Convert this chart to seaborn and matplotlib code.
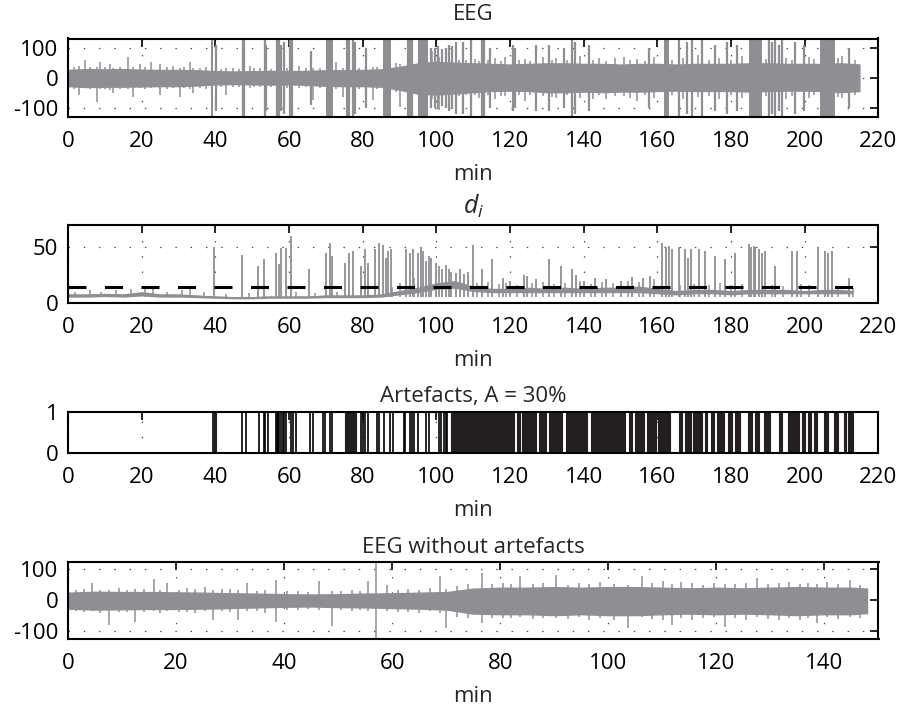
import numpy as np
import pandas as pd
import matplotlib
matplotlib.use("Agg")
import matplotlib.pyplot as plt
import seaborn as sns

# ---------------- data ----------------
# Panel 1: EEG (min, amplitude envelope, uV)
eeg_t  = [0, 5, 10, 15, 20, 25, 30, 35, 40, 45, 50, 55, 60, 65, 70, 75, 80, 85, 90, 95, 100,
          105, 110, 115, 120, 125, 130, 135, 140, 145, 150, 155, 160, 165, 170, 175, 180, 185,
          190, 195, 200, 205, 210, 215]
eeg_up = [28, 31, 30, 31, 29, 28, 28, 27, 24, 23, 24, 25, 24, 25, 27, 27, 28, 30, 38, 50, 55,
          52, 50, 48, 46, 48, 50, 50, 48, 48, 46, 48, 48, 46, 48, 48, 48, 50, 50, 48, 48, 48, 50, 46]
eeg_lo = [30, 33, 32, 32, 31, 30, 30, 28, 24, 23, 24, 25, 24, 26, 29, 30, 30, 32, 42, 55, 58,
          54, 50, 46, 45, 46, 50, 50, 48, 50, 48, 48, 46, 45, 46, 46, 46, 48, 46, 45, 45, 46, 50, 46]
# small spikes (min, up, down)
eeg_small_t  = [1.5, 3.0, 4.6, 6.0, 7.8, 8.7, 10.0, 11.4, 12.3, 14.0, 16.3, 17.7, 19.5, 21.0,
                22.6, 24.9, 25.0, 27.0, 28.5, 30.4, 31.5, 33.0, 34.0, 35.7, 37.5, 41.5, 43.0,
                44.7, 46.5, 49.3, 50.5, 52.0, 55.0, 59.5, 62.8, 64.5, 66.5, 68.3, 72.8, 74.7,
                79.0, 81.0, 82.8, 84.0, 89.1, 90.0, 98.9, 100.7, 106.0, 108.0, 110.5, 111.5,
                114.0, 116.0, 117.5, 118.5, 122.5, 124.0, 125.5, 129.0, 131.5, 132.5, 135.5,
                139.0, 142.5, 144.0, 146.0, 148.5, 151.0, 152.5, 154.5, 156.5, 159.0, 164.0,
                166.8, 171.0, 174.0, 176.8, 180.0, 183.0, 189.5, 195.0, 196.5, 201.0, 202.5,
                209.0, 210.0, 213.5]
eeg_small_up = [34, 38, 59, 35, 36, 53, 34, 45, 33, 37, 70, 34, 45, 35, 53, 45, 30, 34, 38, 32,
                36, 53, 33, 31, 34, 29, 31, 32, 30, 38, 31, 33, 30, 31, 38, 32, 33, 31, 53, 33,
                33, 48, 34, 36, 48, 45, 87, 70, 60, 58, 62, 56, 60, 66, 56, 70, 58, 62, 56, 68,
                58, 64, 58, 72, 60, 66, 56, 64, 70, 58, 62, 56, 70, 60, 64, 74, 58, 66, 60, 72,
                62, 66, 58, 70, 62, 64, 72, 58]
eeg_small_dn = [36, 58, 35, 38, 80, 36, 37, 40, 52, 36, 37, 63, 35, 38, 35, 37, 58, 36, 35, 63,
                35, 36, 52, 33, 36, 30, 58, 30, 31, 33, 30, 30, 31, 33, 35, 32, 74, 35, 36, 63,
                36, 38, 74, 38, 46, 97, 70, 108, 62, 58, 56, 66, 58, 72, 60, 62, 56, 76, 58, 60,
                64, 68, 58, 66, 72, 58, 70, 60, 60, 66, 76, 58, 66, 56, 72, 64, 60, 70, 56, 68,
                62, 72, 60, 66, 58, 64, 66, 56]
# artefact spikes (min, amplitude)
eeg_art_t   = [40.1, 47.5, 47.9, 53.4, 53.7, 56.6, 57.0, 57.4, 57.9, 58.5, 60.3, 60.8, 66.0,
               75.6, 76.2, 77.4, 78.0, 81.0, 92.2, 92.6, 93.0, 93.5, 98.5, 99.5, 100.5, 101.5,
               102.5, 103.5, 104.3, 105.3, 107.1, 109.4, 112.5, 113.0, 114.5, 120.7, 121.3,
               127.0, 130.6, 134.7, 136.9, 137.5, 141.4, 157.7, 165.8, 168.1, 169.4, 172.1,
               175.7, 178.9, 181.6, 190.2, 191.0, 191.8, 193.0, 193.8, 197.4, 199.7, 211.9]
eeg_art_amp = [110, 130, 130, 130, 110, 130, 130, 130, 110, 120, 130, 130, 90,
               130, 130, 130, 120, 100, 130, 130, 130, 130, 100, 100, 105, 95,
               100, 110, 105, 120, 120, 130, 130, 130, 100, 110, 100,
               110, 110, 100, 130, 120, 110, 100, 130, 120, 130, 130,
               110, 120, 110, 130, 120, 130, 110, 130, 120, 110, 100]
# dense artefact bursts (start, end) in min
eeg_burst_start = [38.7, 69.9, 85.4, 94.9, 161.7, 184.8, 204.2]
eeg_burst_end   = [39.4, 71.9, 87.7, 97.6, 163.1, 188.4, 208.2]

# Panel 2: d_i
di_t  = [0, 5, 10, 15, 20, 25, 30, 35, 40, 45, 50, 55, 60, 65, 70, 75, 80, 85, 90, 95, 100,
         105, 110, 115, 120, 125, 130, 135, 140, 145, 150, 155, 160, 165, 170, 175, 180, 185,
         190, 195, 200, 205, 210, 213]
di_lo = [5, 5, 5.5, 5, 6, 5, 5, 4.5, 4, 3.5, 3.5, 4, 4, 4, 4.5, 4.5, 4.5, 5, 7, 9, 12,
         13, 10, 9, 9, 9, 9, 9, 9, 9, 9, 9, 8, 7, 8, 8, 7, 8, 8, 8, 8, 8, 8, 8]
di_hi = [8, 8, 8.5, 8, 10, 8, 8, 7, 6, 5.5, 5.5, 6, 6, 6, 7, 7, 7, 8, 11, 14, 18,
         20, 15, 13, 13, 14, 13, 14, 13, 14, 14, 15, 13, 11, 12, 12, 11, 12, 12, 12, 11, 12, 12, 11]
di_thr = 14
di_thr_t = [0, 213]
di_spk_t = [39.6, 47.3, 51.5, 53.1, 56.4, 57.2, 57.9, 59.3, 60.4, 65.4, 70.1, 71.0, 71.7, 75.3,
            76.4, 77.3, 79.6, 80.5, 81.4, 83.2, 84.5, 85.4, 86.2, 86.8, 87.7, 91.8, 92.7, 93.6,
            95.0, 95.7, 96.3, 97.2, 98.0, 98.6, 99.9, 100.8, 101.6, 102.5, 103.4, 104.0, 105.3,
            106.5, 107.5, 108.5, 109.8, 112.5, 115.2, 118.0, 120.0, 123.8, 124.7, 127.0, 130.6,
            133.7, 136.9, 137.8, 140.0, 143.0, 146.0, 150.0, 153.0, 156.0, 158.0, 161.3, 162.2,
            163.1, 164.0, 165.8, 167.6, 168.4, 169.0, 171.2, 173.0, 175.7, 178.4, 181.1, 184.8,
            185.5, 186.2, 186.6, 187.5, 188.4, 189.3, 192.0, 196.5, 197.8, 203.7, 205.5, 206.4,
            207.3, 211.9]
di_spk_v = [50, 43, 33, 39, 45, 35, 49, 49, 60, 30, 45, 54, 42, 36,
            45, 47, 33, 48, 36, 48, 54, 52, 40, 47, 48, 48, 45, 48,
            45, 50, 47, 38, 42, 40, 36, 33, 30, 34, 30, 28, 27,
            30, 26, 28, 52, 30, 39, 22, 20, 25, 24, 21, 39,
            33, 30, 25, 20, 22, 21, 20, 23, 22, 24, 54, 50,
            51, 48, 50, 48, 40, 48, 48, 47, 42, 39, 45, 53,
            50, 51, 50, 48, 45, 47, 33, 47, 47, 50, 47, 45,
            47, 22]
# small baseline jitter peaks (min, value)
di_jit_t = [2, 6, 9, 13, 17, 21, 23, 27, 31, 33, 37, 43, 49, 62, 67, 73, 88, 90, 94, 111, 114,
            117, 119, 122, 126, 129, 132, 135, 139, 142, 145, 148, 152, 155, 159, 166, 170,
            174, 177, 180, 183, 191, 194, 199, 201, 209, 213]
di_jit_v = [10, 11, 10, 11, 12, 13, 12, 10, 11, 12, 10, 8, 9, 10, 9, 10, 14, 18, 22, 18, 19,
            17, 18, 16, 18, 19, 17, 18, 20, 17, 19, 18, 20, 19, 21, 16, 17, 16, 18, 16, 17,
            16, 15, 17, 16, 15, 13]

# Panel 3: artefact indicator (transition times and dense blocks, min)
art_edges = [39.3, 47.3, 48.4, 51.8, 53.1, 53.6, 54.3, 56.5, 56.7, 56.9, 57.1, 57.4, 57.7,
             58.3, 58.6, 59.3, 60.6, 61.1, 62.0, 65.6, 66.5, 69.2, 69.8, 71.0, 71.7, 79.6,
             80.2, 80.5, 81.4, 84.0, 84.3, 85.9, 87.3, 88.1, 91.3, 91.6, 92.7, 93.5, 93.8,
             94.9, 97.2, 98.1, 100.8, 101.3, 102.1, 102.6, 103.0]
art_blk_start = [39.6, 75.3, 104.0, 111.3, 112.2, 114.6, 122.0, 123.2, 127.9, 130.6, 135.1,
                 141.9, 146.4, 148.6, 152.2, 153.8, 157.2, 160.1, 165.8, 167.6, 169.6, 173.0,
                 174.4, 176.2, 179.2, 181.1, 184.6, 186.6, 188.8, 192.9, 195.4, 199.2, 200.8,
                 202.4, 205.1, 207.8, 210.5, 211.8]
art_blk_end   = [40.3, 78.2, 111.1, 112.0, 114.4, 121.1, 122.6, 127.0, 129.7, 134.0, 141.0,
                 145.9, 148.2, 151.3, 153.1, 156.3, 159.5, 163.5, 166.7, 169.0, 172.1, 173.5,
                 175.3, 178.0, 180.2, 182.5, 185.7, 187.5, 190.6, 193.8, 198.3, 200.1, 201.7,
                 203.3, 206.4, 209.1, 211.2, 213.2]

# Panel 4: EEG without artefacts
cl_t  = [0, 5, 10, 15, 20, 25, 30, 35, 40, 45, 50, 55, 60, 65, 70, 75, 80, 85, 90, 95, 100,
         105, 110, 115, 120, 125, 130, 135, 140, 145, 148]
cl_up = [27, 30, 29, 29, 28, 27, 25, 24, 22, 21, 22, 24, 25, 27, 29, 40, 43, 43, 45, 43, 45,
         45, 43, 41, 43, 41, 43, 45, 43, 43, 40]
cl_lo = [29, 32, 31, 30, 30, 29, 27, 25, 23, 22, 24, 25, 27, 29, 32, 45, 47, 47, 50, 47, 50,
         50, 47, 45, 47, 45, 47, 50, 47, 47, 43]
cl_spk_t  = [1.5, 3.0, 4.4, 6.0, 7.5, 9.5, 11.0, 12.4, 14.0, 15.9, 17.0, 18.3, 20.5, 22.0,
             23.5, 25.4, 26.9, 28.5, 30.0, 31.5, 33.1, 35.0, 36.5, 38.5, 40.5, 42.5, 44.5,
             46.4, 48.9, 50.5, 52.5, 54.0, 55.6, 57.0, 59.0, 61.0, 63.0, 65.0, 67.0, 68.9,
             70.0, 72.0, 74.0, 76.6, 78.5, 80.5, 82.0, 83.7, 86.0, 88.0, 90.4, 92.5, 94.5,
             96.5, 98.5, 101.0, 103.7, 106.2, 108.0, 110.2, 111.7, 113.5, 115.5, 117.5, 119.5,
             121.6, 123.5, 125.5, 127.5, 129.5, 131.5, 133.5, 135.5, 137.0, 138.6, 140.5,
             142.5, 144.7, 146.5]
cl_spk_up = [33, 38, 55, 35, 33, 40, 34, 38, 36, 69, 35, 55, 34, 40, 36, 44, 32, 38, 36, 33,
             55, 31, 34, 66, 30, 29, 28, 61, 31, 30, 33, 31, 61, 130, 49, 35, 38, 34, 40, 78,
             36, 48, 52, 89, 52, 55, 53, 78, 52, 55, 83, 50, 56, 52, 60, 54, 50, 78, 56, 61,
             52, 60, 55, 50, 56, 52, 54, 55, 72, 52, 56, 60, 54, 56, 52, 60, 53, 66, 50]
cl_spk_dn = [35, 38, 36, 40, 80, 37, 38, 69, 37, 35, 40, 34, 39, 37, 40, 35, 63, 36, 38, 63,
             33, 36, 40, 69, 30, 31, 29, 30, 82, 31, 33, 30, 33, 130, 34, 38, 37, 40, 36, 42,
             91, 55, 58, 74, 58, 56, 58, 54, 60, 56, 56, 60, 55, 62, 58, 62, 91, 55, 60, 62,
             80, 56, 62, 58, 55, 85, 56, 62, 55, 60, 62, 58, 64, 57, 74, 55, 60, 54, 56]

# ---------------- style ----------------
sns.set_style("white")
plt.rcParams["font.family"] = ["Open Sans", "DejaVu Sans"]
plt.rcParams["mathtext.fontset"] = "custom"
plt.rcParams["mathtext.it"] = "Open Sans:italic"
plt.rcParams["mathtext.rm"] = "Open Sans"
plt.rcParams["lines.scale_dashes"] = False
plt.rcParams["axes.unicode_minus"] = False
FS = 16
GREY = "#8e8f93"

fig = plt.figure(figsize=(9.01, 7.08), dpi=100)
L, W = 68 / 901, 810.5 / 901
def mk(top, bot):
    return fig.add_axes([L, 1 - bot / 708, W, (bot - top) / 708])
ax1 = mk(38.5, 117)
ax2 = mk(225, 302.7)
ax3 = mk(411.7, 452.7)
ax4 = mk(561.7, 639)

def style(ax, xmax, xt, ylim, yt):
    ax.set_xlim(0, xmax)
    ax.set_ylim(*ylim)
    ax.set_xticks(xt)
    ax.set_yticks(yt)
    ax.tick_params(direction="in", length=6, width=1.2, top=True, right=True,
                   labelsize=FS, colors="black")
    ax.tick_params(axis="x", pad=10)
    ax.tick_params(axis="y", pad=7)
    for s in ax.spines.values():
        s.set_linewidth(1.5)
        s.set_color("black")
        s.set_zorder(5)
    ax.grid(True, linestyle=(0, (1, 10)), color="#444444", linewidth=0.9)
    ax.set_axisbelow(True)
    ax.set_xlabel("min", fontsize=FS, labelpad=9)
    ax.set_ylabel("")

# Panel 1
ax1.fill_between(eeg_t, [-v for v in eeg_lo], eeg_up, color=GREY, lw=0, zorder=2)
ax1.vlines(eeg_small_t, [-v for v in eeg_small_dn], eeg_small_up, color=GREY, lw=1.1, zorder=2)
ax1.vlines(eeg_art_t, [-v for v in eeg_art_amp], eeg_art_amp, color=GREY, lw=1.6, zorder=2)
for s, e in zip(eeg_burst_start, eeg_burst_end):
    ax1.fill_between([s, e], [-135, -135], [135, 135], color=GREY, lw=0, zorder=2)
style(ax1, 220, range(0, 221, 20), (-130, 130), [-100, 0, 100])
ax1.set_title("EEG", fontsize=FS, pad=13)

# Panel 2
ax2.fill_between(di_t, di_lo, di_hi, color=GREY, lw=0, zorder=2)
ax2.vlines(di_spk_t, [5] * len(di_spk_t), di_spk_v, color=GREY, lw=1.3, zorder=2)
ax2.vlines(di_jit_t, [5] * len(di_jit_t), di_jit_v, color=GREY, lw=1.1, zorder=2)
sns.lineplot(x=di_t, y=[(a + b) / 2 for a, b in zip(di_lo, di_hi)], ax=ax2, color=GREY,
             lw=1.0, zorder=2)
sns.lineplot(x=di_thr_t, y=[di_thr, di_thr], ax=ax2, color="black", lw=2.2, zorder=3)
ax2.lines[-1].set_dashes((18 * 0.72, 18.5 * 0.72))
style(ax2, 220, range(0, 221, 20), (0, 70), [0, 50])
ax2.set_title("$d_i$", fontsize=FS + 2, pad=8)

# Panel 3
ax3.vlines(art_edges, 0, 1, color="black", lw=1.2, zorder=3)
for s, e in zip(art_blk_start, art_blk_end):
    ax3.fill_between([s, e], [0, 0], [1, 1], color="#231f20", lw=0.8, edgecolor="#231f20",
                     zorder=3)
style(ax3, 220, range(0, 221, 20), (0, 1), [0, 1])
ax3.grid(axis="y", visible=False)
ax3.set_title("Artefacts, A = 30%", fontsize=FS, pad=7)

# Panel 4
ax4.fill_between(cl_t, [-v for v in cl_lo], cl_up, color=GREY, lw=0, zorder=2)
ax4.vlines(cl_spk_t, [-v for v in cl_spk_dn], cl_spk_up, color=GREY, lw=1.1, zorder=2)
style(ax4, 150, range(0, 141, 20), (-125, 125), [-100, 0, 100])
ax4.set_title("EEG without artefacts", fontsize=FS, pad=6)

fig.savefig("out.png", dpi=100)
